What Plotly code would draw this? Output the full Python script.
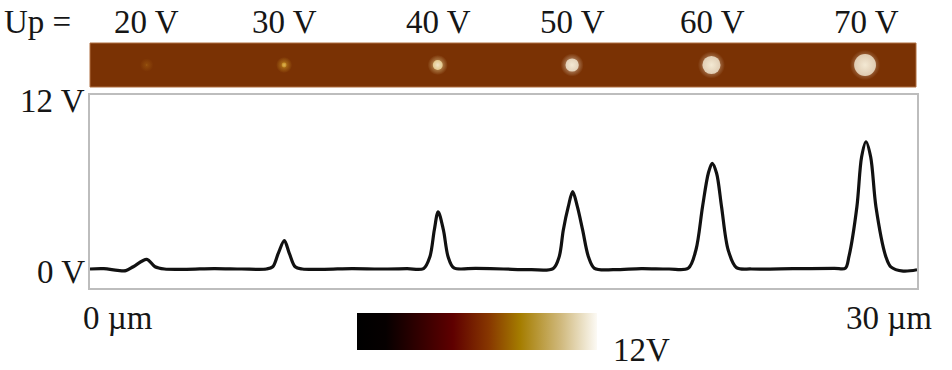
import plotly.graph_objects as go
from plotly.colors import sample_colorscale

# ---------------- data ----------------
PEAK_LABELS = ["20 V", "30 V", "40 V", "50 V", "60 V", "70 V"]
PEAK_X_UM = [2.06, 7.05, 12.63, 17.51, 22.57, 28.15]
PEAK_HEIGHT_V = [0.69, 2.02, 4.09, 5.52, 7.55, 9.09]

PROFILE_X_UM = [
    0.0, 0.5, 1.0, 1.3, 1.57, 2.06, 2.36, 2.7,
    3.5, 4.5, 5.5, 6.4, 6.63, 6.83, 7.05, 7.23, 7.44, 7.7,
    8.5, 9.5, 10.5, 11.5, 12.1, 12.33, 12.49, 12.63, 12.82, 12.99, 13.2,
    14.0, 15.0, 16.0, 16.8, 17.02, 17.17, 17.35, 17.51, 17.68, 17.87, 18.08, 18.3,
    19.0, 20.0, 21.0, 21.7, 21.98, 22.22, 22.43, 22.57, 22.73, 22.91, 23.15, 23.45,
    24.0, 25.5, 27.0, 27.4, 27.53, 27.82, 27.99, 28.15, 28.32, 28.51, 28.87, 29.05,
    29.5, 30.0,
]
PROFILE_V = [
    0.0, 0.02, -0.1, -0.12, 0.16, 0.69, 0.16, 0.0,
    -0.02, 0.03, 0.0, 0.0, 0.16, 1.12, 2.02, 1.12, 0.16, 0.0,
    -0.02, 0.03, 0.0, 0.02, 0.03, 0.88, 2.79, 4.09, 2.79, 0.88, 0.08,
    0.05, 0.0, -0.05, 0.03, 0.88, 2.79, 4.45, 5.52, 4.45, 2.79, 0.88, 0.05,
    -0.05, 0.03, 0.0, 0.05, 1.36, 4.45, 6.84, 7.55, 6.84, 4.45, 1.36, 0.1,
    0.0, 0.02, 0.05, 0.05, 0.88, 4.45, 8.0, 9.09, 8.0, 4.45, 0.88, 0.15,
    -0.15, -0.05,
]

Y_TICK_VALUES = [0, 12]
Y_TICK_LABELS = ["0 V", "12 V"]
X_RANGE_UM = [0, 30]
X_TICK_LABELS = ["0 µm", "30 µm"]
CBAR_RANGE_V = [0, 12]
CBAR_LABEL = "12V"
UP_LABEL = "Up ="

# ---------------- styling / layout ----------------
W, H = 952, 370
FONT = "Liberation Serif"
FS = 33
TXT = "#161616"


def px(x):
    return x / W


def py(y):
    return 1 - y / H


BROWN = "rgb(122,50,4)"
cbar_scale = [
    [0.0, "rgb(0,0,0)"], [0.12, "rgb(6,0,0)"], [0.40, "rgb(95,0,0)"],
    [0.55, "rgb(135,55,0)"], [0.68, "rgb(165,125,0)"],
    [0.85, "rgb(208,185,125)"], [1.0, "rgb(252,250,245)"],
]
spot_scale = [
    [0.0, BROWN], [0.14, "rgb(155,88,15)"], [0.4, "rgb(212,158,40)"],
    [0.8, "rgb(250,232,165)"], [1.0, "rgb(255,251,232)"],
]

fig = go.Figure()

# profile line
fig.add_trace(go.Scatter(
    x=PROFILE_X_UM, y=PROFILE_V, mode="lines",
    line=dict(color="#111111", width=3.2, shape="spline", smoothing=0.9),
    xaxis="x", yaxis="y", showlegend=False, hoverinfo="skip",
))

# spots in the strip image: glow (spot colour -> brown) + core (white -> spot colour)
glow_norm = [min(h / 5.0, 1.0) for h in PEAK_HEIGHT_V]
glow_centre = sample_colorscale(spot_scale, glow_norm)
glow_size = [12 + 2.0 * h for h in PEAK_HEIGHT_V]
core_size = [2.4 * h for h in PEAK_HEIGHT_V]
fig.add_trace(go.Scatter(
    x=PEAK_X_UM, y=[0.5] * len(PEAK_X_UM), mode="markers",
    marker=dict(size=glow_size, color=BROWN, line=dict(width=0),
                gradient=dict(type="radial", color=glow_centre)),
    xaxis="x2", yaxis="y2", showlegend=False, hoverinfo="skip",
))
core_edge = sample_colorscale(spot_scale, glow_norm)
core_centre = sample_colorscale(spot_scale, [min(h / 3.2, 1.0) for h in PEAK_HEIGHT_V])
fig.add_trace(go.Scatter(
    x=PEAK_X_UM, y=[0.5] * len(PEAK_X_UM), mode="markers",
    marker=dict(size=core_size, color=core_edge, line=dict(width=0),
                gradient=dict(type="radial", color=core_centre)),
    xaxis="x2", yaxis="y2", showlegend=False, hoverinfo="skip",
))

# colour bar
fig.add_trace(go.Scatter(
    x=[None, None], y=[None, None], mode="markers",
    marker=dict(color=CBAR_RANGE_V, cmin=CBAR_RANGE_V[0], cmax=CBAR_RANGE_V[1],
                colorscale=cbar_scale, showscale=True,
                colorbar=dict(orientation="h", x=px(477), xanchor="center",
                              y=py(350), yanchor="bottom", lenmode="pixels",
                              len=240, thickness=37, outlinewidth=0,
                              showticklabels=False, ticks="", xpad=0, ypad=0)),
    xaxis="x", yaxis="y", showlegend=False, hoverinfo="skip",
))

# y scale: 0 V at y=269 px, 12 V at y=101 px (14 px/V)
y_lo = -(288 - 269) / 14.0
y_hi = (269 - 95) / 14.0

annotations = []
annotations.append(dict(text=UP_LABEL, xref="paper", yref="paper", x=px(2), y=py(22),
                        xanchor="left", yanchor="middle", showarrow=False))
for lab, xv in zip(PEAK_LABELS, PEAK_X_UM):
    annotations.append(dict(text=lab, xref="x", yref="paper", x=xv, y=py(22),
                            xanchor="center", yanchor="middle", showarrow=False))
annotations.append(dict(text=Y_TICK_LABELS[1], xref="paper", yref="y", x=px(87),
                        y=Y_TICK_VALUES[1], xanchor="right", yanchor="middle", showarrow=False))
annotations.append(dict(text=Y_TICK_LABELS[0], xref="paper", yref="y", x=px(87),
                        y=Y_TICK_VALUES[0], yshift=-3, xanchor="right", yanchor="middle",
                        showarrow=False))
annotations.append(dict(text=X_TICK_LABELS[0], xref="paper", yref="paper", x=px(81),
                        y=py(318), xanchor="left", yanchor="middle", showarrow=False))
annotations.append(dict(text=X_TICK_LABELS[1], xref="paper", yref="paper", x=px(934),
                        y=py(318), xanchor="right", yanchor="middle", showarrow=False))
annotations.append(dict(text=CBAR_LABEL, xref="paper", yref="paper", x=px(611),
                        y=py(350), xanchor="left", yanchor="middle", showarrow=False))

fig.update_layout(
    width=W, height=H, margin=dict(l=0, r=0, t=0, b=0),
    paper_bgcolor="white", plot_bgcolor="rgba(0,0,0,0)",
    font=dict(family=FONT, size=FS, color=TXT),
    showlegend=False,
    xaxis=dict(domain=[px(90), px(917)], range=X_RANGE_UM, showticklabels=False,
               ticks="", showgrid=False, zeroline=False, showline=True, mirror=True,
               linecolor="#bdbdbd", linewidth=1.5),
    yaxis=dict(domain=[py(288), py(95)], range=[y_lo, y_hi], showticklabels=False,
               ticks="", showgrid=False, zeroline=False, showline=True, mirror=True,
               linecolor="#bdbdbd", linewidth=1.5),
    xaxis2=dict(domain=[px(90), px(916)], range=X_RANGE_UM, visible=False, anchor="y2"),
    yaxis2=dict(domain=[py(87), py(43)], range=[0, 1], visible=False, anchor="x2"),
    shapes=[dict(type="rect", xref="x2 domain", yref="y2 domain", x0=0, x1=1, y0=0, y1=1,
                 fillcolor=BROWN, line=dict(color="rgb(175,110,65)", width=1), layer="below")],
    annotations=annotations,
)

fig.write_html("out.html")
